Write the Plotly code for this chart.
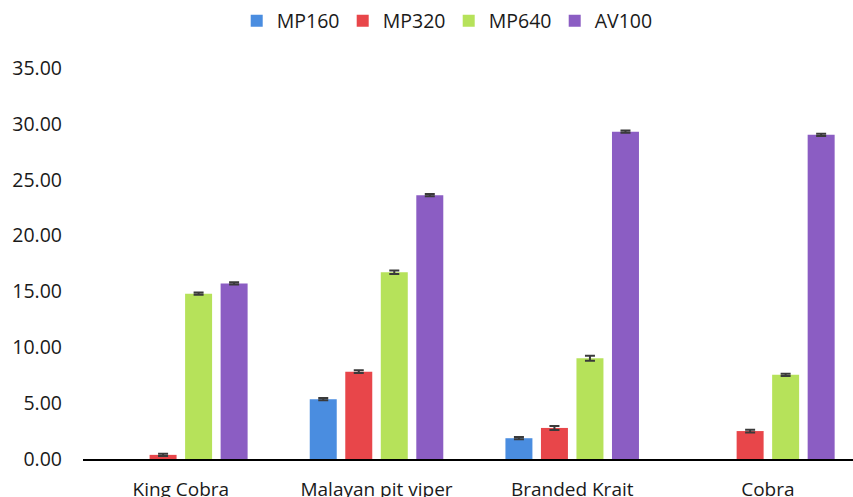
import plotly.graph_objects as go

categories = ["King Cobra", "Malayan pit viper", "Branded Krait", "Cobra"]
series_names = ["MP160", "MP320", "MP640", "AV100"]
mp160 = [0.0, 5.35, 1.86, 0.0]
mp320 = [0.37, 7.82, 2.78, 2.50]
mp640 = [14.80, 16.72, 9.02, 7.54]
av100 = [15.72, 23.62, 29.30, 29.02]
err160 = [0.0, 0.10, 0.10, 0.0]
err320 = [0.10, 0.12, 0.18, 0.12]
err640 = [0.10, 0.15, 0.22, 0.10]
err100 = [0.10, 0.10, 0.10, 0.10]
y_ticks = [0, 5, 10, 15, 20, 25, 30, 35]

colors = ["#4A8DE0", "#E8464A", "#B6E25A", "#8B5DC3"]
values = [mp160, mp320, mp640, av100]
errors = [err160, err320, err640, err100]

fig = go.Figure()
for name, vals, errs, col in zip(series_names, values, errors, colors):
    show = [v > 0 for v in vals]
    fig.add_trace(go.Bar(
        name=name,
        x=categories,
        y=[v if s else None for v, s in zip(vals, show)],
        marker=dict(color=col, line=dict(width=0)),
        error_y=dict(type="data", array=[e if s else 0 for e, s in zip(errs, show)],
                     visible=True, color="#3a3a3a", thickness=2, width=5),
    ))

fig.update_layout(
    width=853, height=497,
    margin=dict(l=83, r=0, t=68, b=38, autoexpand=False),
    paper_bgcolor="white", plot_bgcolor="white",
    barmode="group", bargap=0.274, bargroupgap=0.24,
    font=dict(family="Open Sans, Noto Sans, sans-serif", size=19, color="#1a1a1a"),
    legend=dict(orientation="h", xref="container", yref="container",
                x=0.2775, xanchor="left", y=0.997, yanchor="top",
                font=dict(size=19.5), itemwidth=30, entrywidth=61,
                entrywidthmode="pixels", traceorder="normal"),
    showlegend=True,
)
fig.update_xaxes(range=[-0.5, 3.435], showline=True, linecolor="#000000", linewidth=1.5,
                 ticks="", showgrid=False, ticklabelstandoff=12, automargin=False)
fig.update_yaxes(range=[0, 35], tickvals=y_ticks,
                 ticktext=[f"{t:.2f}" for t in y_ticks], showgrid=False,
                 zeroline=False, showline=False, ticks="", ticklabelstandoff=20,
                 tickfont=dict(size=19.5), automargin=False)

fig.write_html("out.html", config={"displayModeBar": False},
               post_script="document.body.style.margin='0';document.body.style.overflow='hidden';")
